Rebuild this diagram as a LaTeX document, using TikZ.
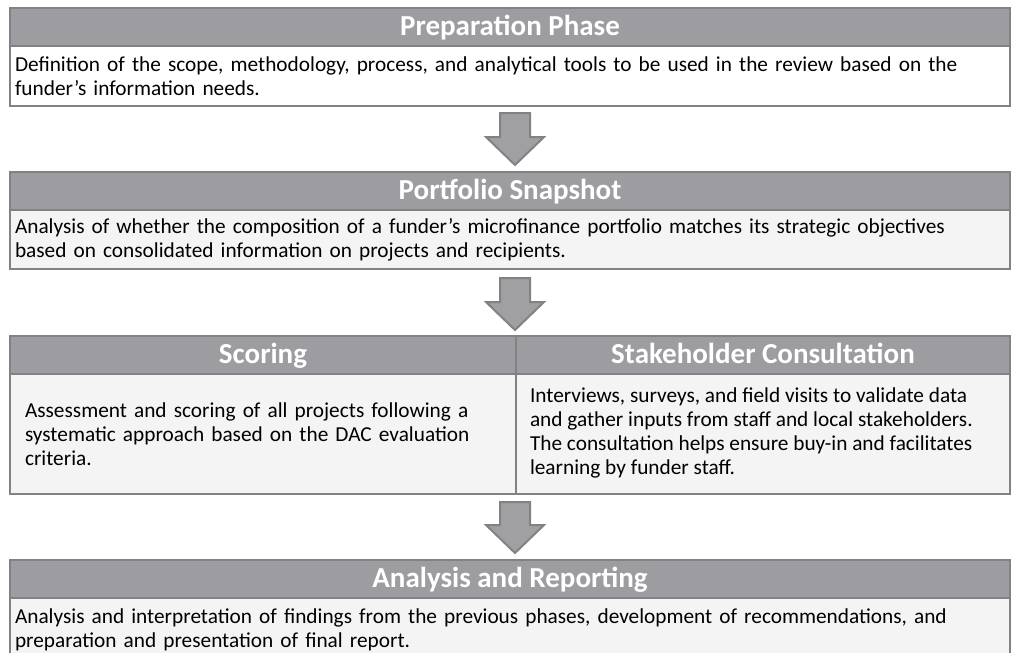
\documentclass[tikz,border=0pt]{standalone}
\usepackage{fontspec}
\setmainfont{Carlito}
\usetikzlibrary{positioning,calc}
\definecolor{headgray}{HTML}{9D9DA1}
\definecolor{framegray}{HTML}{828285}
\definecolor{bodygray}{HTML}{F4F4F4}
\definecolor{arrowgray}{HTML}{A0A0A3}
\newcommand{\fatarrow}[2]{%
  \draw[fatarrow] ($(#1)+(-15,0)$) -- ($(#1)+(15,0)$) -- ($(#2)+(15,-28)$) -- ($(#2)+(29,-28)$)
    -- (#2) -- ($(#2)+(-29,-28)$) -- ($(#2)+(-15,-28)$) -- cycle;}

\begin{document}
\begin{tikzpicture}[x=1pt,y=-1pt,
  head/.style={draw=framegray,line width=2.5pt,fill=headgray,text=white,outer sep=0pt,
    font=\fontsize{29}{32}\selectfont\bfseries,minimum height=38pt,inner sep=0pt,
    text height=19pt,text depth=2pt},
  body/.style={draw=framegray,line width=2.5pt,fill=bodygray,outer sep=0pt,
    font=\fontsize{21.3}{24}\selectfont,align=left,inner xsep=5pt,inner ysep=0pt},
  fatarrow/.style={draw=framegray,line width=2pt,fill=arrowgray,line join=miter}]
  \useasboundingbox (0,0) rectangle (1012,653);

  % preparation phase
  \node[head,minimum width=1000pt,anchor=north west] (prephead) at (10,8) {Preparation Phase};
  \node[body,fill=white,text width=990pt,minimum height=60pt,below=0pt of prephead] (prepbody)
    {Definition of the scope, methodology, process, and analytical tools to be used in the review based on the\\
     funder’s information needs.};

  % portfolio snapshot
  \node[head,minimum width=1000pt,anchor=north west] (snaphead) at (10,172) {Portfolio Snapshot};
  \node[body,text width=990pt,minimum height=59pt,below=0pt of snaphead] (snapbody)
    {Analysis of whether the composition of a funder’s microfinance portfolio matches its strategic objectives\\
     based on consolidated information on projects and recipients.};

  % scoring and consultation
  \node[head,minimum width=506pt,anchor=north west] (scorehead) at (10,336) {Scoring};
  \node[head,minimum width=494pt,right=0pt of scorehead] (stakehead) {Stakeholder Consultation};
  \node[body,inner xsep=15pt,text width=476pt,minimum height=120pt,below=0pt of scorehead] (scorebody)
    {Assessment and scoring of all projects following a\\
     systematic approach based on the DAC evaluation\\
     criteria.};
  \node[body,inner xsep=14pt,inner ysep=14pt,below=0pt of stakehead] (stakebody)
    {\parbox[c][92pt][t]{466pt}{Interviews, surveys, and field visits to validate data\\
     and gather inputs from staff and local stakeholders.\\
     The consultation helps ensure buy-in and facilitates\\
     learning by funder staff.}};

  % analysis and reporting
  \node[head,minimum width=1000pt,anchor=north west] (anahead) at (10,560) {Analysis and Reporting};
  \node[body,text width=990pt,minimum height=63pt,below=0pt of anahead] (anabody)
    {Analysis and interpretation of findings from the previous phases, development of recommendations, and\\
     preparation and presentation of final report.};

  % arrows
  \coordinate (a1s) at ($(prepbody.south)+(5,7)$);
  \coordinate (a1t) at ($(snaphead.north)+(5,-7)$);
  \coordinate (a2s) at ($(snapbody.south)+(5,9)$);
  \coordinate (a2t) at ($(stakehead.north west)+(-1,-6)$);
  \coordinate (a3s) at ($(stakebody.south west)+(-1,8)$);
  \coordinate (a3t) at ($(anahead.north)+(5,-7)$);
  \fatarrow{a1s}{a1t}
  \fatarrow{a2s}{a2t}
  \fatarrow{a3s}{a3t}
\end{tikzpicture}
\end{document}
